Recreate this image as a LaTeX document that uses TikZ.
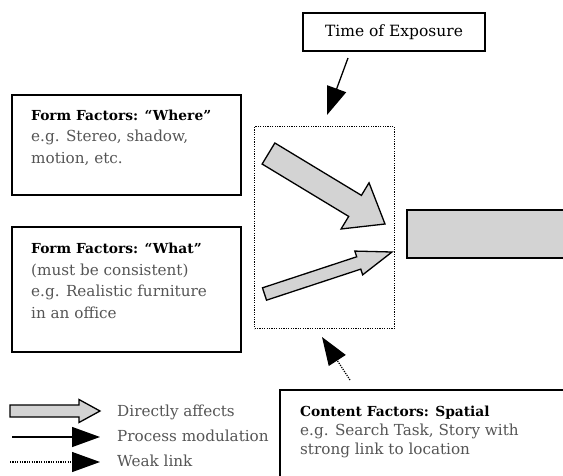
\documentclass[tikz,border=0pt]{standalone}
\usepackage{fontspec}
\setmainfont{DejaVu Serif}
\usetikzlibrary{arrows.meta,calc}
\definecolor{fillg}{RGB}{211,211,211}
\definecolor{txtg}{RGB}{85,85,85}
\newcommand\ttlfont{\fontsize{13.8}{21.5}\selectfont\bfseries\color{black}}
\newcommand\blockarrow[5]{% tail, tip, half shaft, half head, head length
  \coordinate (ba-base) at ($(#2)!#5!(#1)$);
  \draw[blockarr] ($(#1)!#3!90:(#2)$) -- ($(ba-base)!#3!90:(#2)$) -- ($(ba-base)!#4!90:(#2)$)
    -- (#2) -- ($(ba-base)!#4!-90:(#2)$) -- ($(ba-base)!#3!-90:(#2)$) -- ($(#1)!#3!-90:(#2)$) -- cycle;}
\tikzset{
  box/.style={draw=black,line width=1.5pt,inner sep=0pt,anchor=north west},
  blockarr/.style={draw=black,fill=fillg,line width=1.3pt,line join=miter},
  dotbox/.style={draw=black,line width=1.2pt,dash pattern=on 1.2pt off 1.2pt,inner sep=0pt,anchor=north west},
  txt/.style={anchor=base west,align=left,inner sep=0pt,text=txtg,font=\fontsize{15.2}{21.5}\selectfont},
  solidarr/.style={line width=1.3pt,-{Triangle[length=28pt,width=20pt]}},
  dotarr/.style={line width=1.2pt,dash pattern=on 1.2pt off 1.2pt,-{Triangle[length=28pt,width=20pt]}},
}
\begin{document}
\begin{tikzpicture}[x=1pt,y=-1pt]
\useasboundingbox (0,0) rectangle (563,475);
% boxes
\node (where) [box,minimum width=229pt,minimum height=100pt] at (11,94) {};
\node (what) [box,minimum width=229pt,minimum height=125pt] at (11,226) {};
\node (time) [draw=black,line width=1.5pt,minimum width=182pt,minimum height=38pt,inner sep=0pt,
  font=\fontsize{15.5}{18}\selectfont] at (394,32) {Time of Exposure};
\node (proc) [dotbox,minimum width=140pt,minimum height=202pt] at (254,126) {};
% gray output box (cut off on the right)
\fill[fillg] (407,210) rectangle (563,258);
\draw[line width=2pt] (564,210) -| (407,258) -- (564,258);
% content box (cut off)
\draw[line width=1.5pt] (564,390) -| (280,477);
% texts (anchored at the baseline of their last line)
\node[txt] (wheret) at (31,163) {{\ttlfont Form Factors: “Where”}\\e.g. Stereo, shadow,\\motion, etc.};
\node[txt] (whatt) at (31,318) {{\ttlfont Form Factors: “What”}\\(must be consistent)\\e.g. Realistic furniture\\in an office};
\node[txt,font=\fontsize{15.2}{19}\selectfont] (contt) at (300,454) {{\fontsize{13.8}{19}\selectfont\bfseries\color{black}Content Factors: Spatial}\\e.g. Search Task, Story with\\strong link to location};
% block arrows
\coordinate (a1t) at (268.5,153.5); \coordinate (a1h) at (385,224);
\blockarrow{a1t}{a1h}{12.3pt}{27pt}{35pt}
\coordinate (a2t) at (264.5,294); \coordinate (a2h) at (392,252);
\blockarrow{a2t}{a2h}{6.5pt}{12.5pt}{35pt}
% modulation arrows
\coordinate (time-s) at (348,58); \coordinate (time-e) at (327,115);
\draw[solidarr] (time-s) -- (time-e);
\coordinate (cont-s) at (350,380); \coordinate (cont-e) at (322,337);
\draw[dotarr] (cont-s) -- (cont-e);
% legend
\coordinate (l1s) at (10,411); \coordinate (l1e) at (100,411);
\blockarrow{l1s}{l1e}{6pt}{11.5pt}{21pt}
\coordinate (l2s) at (12,437); \coordinate (l2e) at (100,437);
\draw[solidarr] (l2s) -- (l2e);
\coordinate (l3s) at (10,462); \coordinate (l3e) at (100,462);
\draw[dotarr] (l3s) -- (l3e);
\node[txt] (lg1) at (117,416) {Directly affects};
\node[txt] (lg2) at (117,441) {Process modulation};
\node[txt] (lg3) at (117,466) {Weak link};
\end{tikzpicture}
\end{document}
